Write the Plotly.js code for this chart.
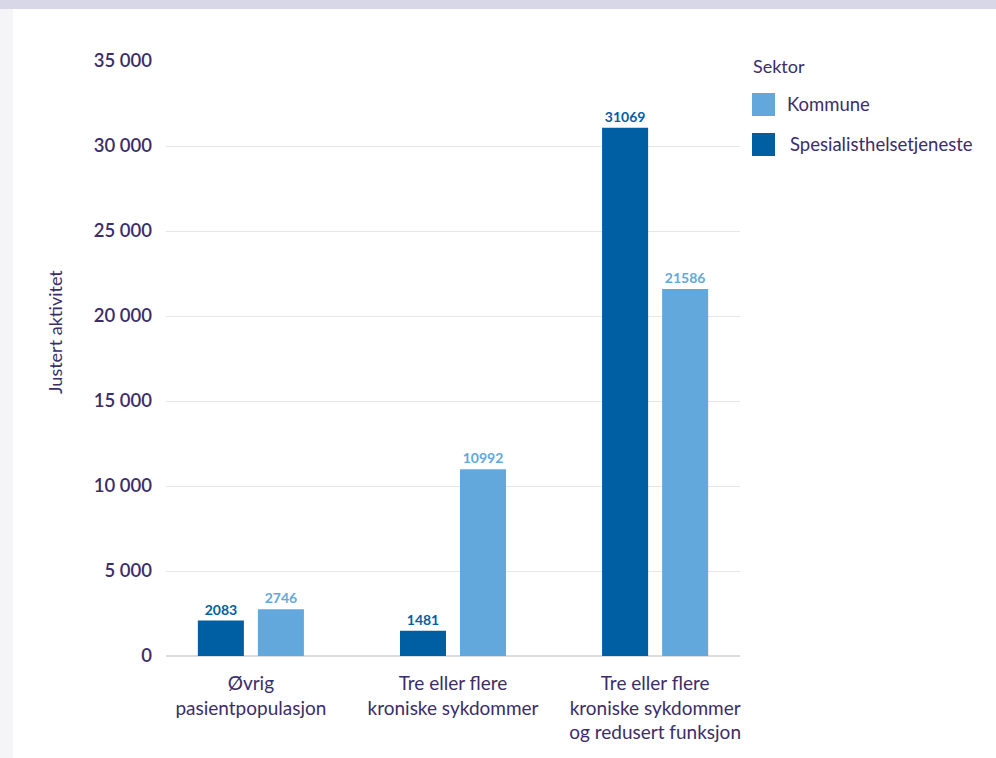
<!DOCTYPE html>
<html>
<head>
<meta charset="utf-8">
<script src="https://cdn.plot.ly/plotly-3.0.1.min.js"></script>
<style>
  html, body { margin: 0; padding: 0; background: #ffffff; }
  #band { position: absolute; left: 0; top: 0; width: 996px; height: 9px; background: #d8d7e8; }
  #strip { position: absolute; left: 0; top: 9px; width: 13px; height: 749px; background: #f5f5f7; }
  #chart { position: absolute; left: 0; top: 0; width: 996px; height: 758px; }
</style>
</head>
<body>
<div id="band"></div>
<div id="strip"></div>
<div id="chart"></div>
<script>
// ---- data ----
const categories = [
  "Øvrig<br>pasientpopulasjon",
  "Tre eller flere<br>kroniske sykdommer",
  "Tre eller flere<br>kroniske sykdommer<br>og redusert funksjon"
];
const spesialistValues = [2083, 1481, 31069];
const kommuneValues = [2746, 10992, 21586];
const seriesNames = ["Spesialisthelsetjeneste", "Kommune"];
const legendTitle = "Sektor";
const legendOrder = ["Kommune", "Spesialisthelsetjeneste"];
const yTickVals = [0, 5000, 10000, 15000, 20000, 25000, 30000, 35000];
const yTitle = "Justert aktivitet";

// ---- style ----
const DARK = "#005ea2";
const LIGHT = "#62a8dc";
const INK = "#3b2d68";
const FONT = "Lato, 'Noto Sans', sans-serif";
const colorOf = { "Spesialisthelsetjeneste": DARK, "Kommune": LIGHT };

// plot area in pixels
const W = 996, H = 758, L = 166, R = 740, T = 61, B = 656;
const px2x = p => (p - L) / (R - L);
const px2y = p => (B - p) / (B - T);

const traces = [
  {
    type: "bar", name: seriesNames[0], x: categories, y: spesialistValues,
    marker: { color: DARK }, text: spesialistValues.map(String),
    textposition: "outside", cliponaxis: false,
    textfont: { family: FONT, size: 14, color: DARK, weight: 700 },
    hoverinfo: "none", showlegend: false
  },
  {
    type: "bar", name: seriesNames[1], x: categories, y: kommuneValues,
    marker: { color: LIGHT }, text: kommuneValues.map(String),
    textposition: "outside", cliponaxis: false,
    textfont: { family: FONT, size: 14, color: LIGHT, weight: 700 },
    hoverinfo: "none", showlegend: false
  }
];

const shapes = [];
const annotations = [];
// legend (drawn in paper coordinates)
annotations.push({
  xref: "paper", yref: "paper", x: px2x(751), y: px2y(66),
  xanchor: "left", yanchor: "middle", text: legendTitle, showarrow: false,
  font: { family: FONT, size: 18, color: INK }
});
legendOrder.forEach((name, i) => {
  const top = 93 + i * 40;
  shapes.push({
    type: "rect", xref: "paper", yref: "paper",
    x0: px2x(752), x1: px2x(775), y0: px2y(top + 23), y1: px2y(top),
    fillcolor: colorOf[name], line: { width: 0 }
  });
  annotations.push({
    xref: "paper", yref: "paper", x: px2x(785 + i * 3), y: px2y(top + 11.5),
    xanchor: "left", yanchor: "middle", text: name, showarrow: false,
    font: { family: FONT, size: 18.5, color: INK }
  });
});
// y axis title
annotations.push({
  xref: "paper", yref: "paper", x: px2x(55), y: px2y(332),
  xanchor: "center", yanchor: "middle", textangle: -90, text: yTitle,
  showarrow: false, font: { family: FONT, size: 18, color: INK }
});

const layout = {
  width: W, height: H,
  margin: { l: L, r: W - R, t: T, b: H - B, pad: 0 },
  paper_bgcolor: "rgba(0,0,0,0)", plot_bgcolor: "rgba(0,0,0,0)",
  separators: ", ",
  barmode: "group", bargap: 0.406, bargroupgap: 0.233,
  showlegend: false,
  font: { family: FONT, color: INK },
  xaxis: {
    type: "category", range: [-0.42, 2.42], showgrid: false, zeroline: false,
    showline: false, ticks: "", fixedrange: true, ticklabelstandoff: 14,
    tickfont: { family: FONT, size: 19, color: INK }
  },
  yaxis: {
    range: [0, 35000], tickvals: yTickVals, tickformat: ",d",
    showgrid: true, gridcolor: "#e7e7ea", gridwidth: 1,
    zeroline: true, zerolinecolor: "#dcdce0", zerolinewidth: 1.5,
    showline: false, ticks: "", ticklabelstandoff: 13, fixedrange: true,
    tickfont: { family: FONT, size: 18.5, color: INK, weight: 600 }
  },
  shapes: shapes,
  annotations: annotations
};

Plotly.newPlot("chart", traces, layout, { displayModeBar: false, staticPlot: true });
</script>
</body>
</html>
